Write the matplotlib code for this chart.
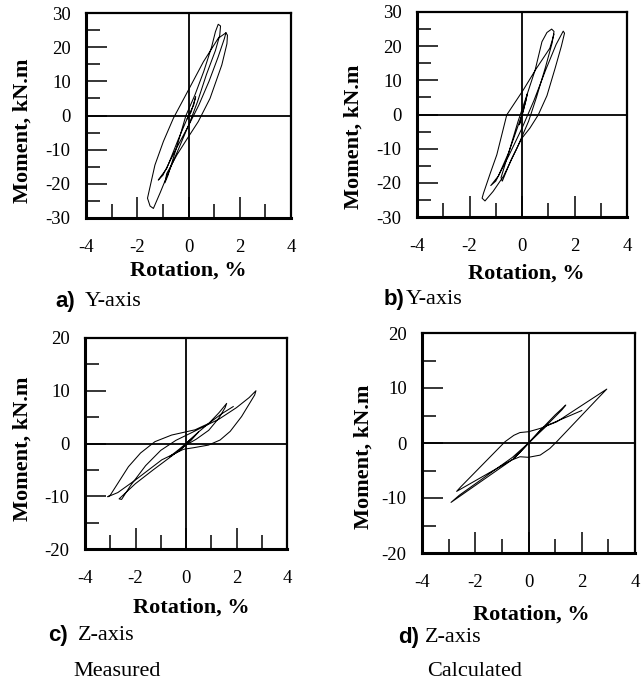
import matplotlib
matplotlib.use('Agg')
import matplotlib.pyplot as plt

plt.rcParams['font.family'] = 'Liberation Serif'
plt.rcParams['axes.unicode_minus'] = False

# a) measured, Y-axis
rot_a = [0, 0.2, 0.28, 0.1, -0.05, 0,
         -0.4, -0.85, -1.18, -1.0, -0.5, 0, 0.4, 0.8, 1.15, 1.4, 1.46, 1.52, 1.5, 1.3, 0.84, 0.38, 0,
         -0.45, -0.85, -0.92, -0.8, -0.45, -0.1, 0.25, 0.6, 0.9, 1.05, 1.16, 1.25, 1.22, 1.05, 0.7, 0.35,
         0.05, -0.4, -0.8, -1.1, -1.37, -1.5, -1.6, -1.31, -0.98, -0.59, 0, 0.58, 1.16, 1.46]
mom_a = [0, 3, 5.5, 1, -1, 0,
         -7, -15.5, -18.9, -17.5, -10, -3, 3, 10, 17, 22.5, 24.2, 23.5, 21, 14.8, 5, -1.8, -6.2,
         -11.5, -17, -19.7, -17.5, -9, 0, 6, 13, 20, 24.5, 26.7, 26.2, 23.5, 19, 12, 4,
         -2, -10, -17, -22.5, -27.2, -26.5, -24.2, -14.5, -7.6, -0.8, 7.5, 15.7, 22.6, 24.2]

# b) calculated, Y-axis
rot_b = [0, 0.15, 0.2, 0.05, -0.1, 0,
         -0.5, -0.9, -1.19, -1.0, -0.5, 0, 0.45, 0.9, 1.3, 1.57, 1.62, 1.5, 1.26, 0.95, 0.62, 0.3, -0.01,
         -0.4, -0.75, -0.8, -0.5, -0.15, 0.2, 0.5, 0.76, 0.95, 1.13, 1.22, 1.15, 0.9, 0.55, 0.25,
         -0.2, -0.7, -1.1, -1.41, -1.52, -1.47, -1.2, -0.96, -0.58, 0.05, 0.55, 1.06, 1.22]
mom_b = [0, 4, 6, 1, -3, 0,
         -11, -18, -20.8, -19.5, -12, -4, 4, 13, 20.5, 24.4, 23.8, 20, 13.5, 5.5, -0.1, -4, -7,
         -13, -19.5, -18.5, -11, -2, 6, 13, 21.3, 24, 25.0, 24.3, 21, 14, 5, -2,
         -10, -18, -22.5, -25.3, -24.5, -23.1, -17, -11.8, -0.1, 7.2, 13.5, 19.4, 23.5]

# c) measured, Z-axis
rot_c = [0, 0.3, 0.5, 0.2, -0.3, -0.65, -0.3, 0,
         0.5, 0.9, 1.3, 1.61, 1.55, 1.3, 0.9, 0.4, 0, -0.6, -1.3, -2.0, -2.65, -2.55, -2.2, -1.6, -1.0,
         -0.4, 0.2, 0.7, 1.3, 2.0, 2.5, 2.77, 2.72, 2.2, 1.75, 1.35, 0.89, 0.3, -0.1, -0.96, -2.0,
         -2.7, -3.1, -3.0, -2.28, -1.8, -1.23, -0.57, 0.36, 0.9, 1.4, 1.87]
mom_c = [0, 1.3, 2.2, 0.6, -1.5, -2.5, -1.2, 0,
         2.2, 3.8, 5.8, 7.6, 6.8, 4.8, 2.5, 0.8, -0.3, -2.5, -5, -7.6, -10.5, -10.6, -8, -4.2, -1.3,
         0.6, 2.0, 3.2, 4.6, 6.8, 8.7, 10.0, 9.2, 5.1, 2.3, 0.66, -0.3, -0.8, -1.1, -3.1, -6.9,
         -9.3, -10.1, -9.8, -4.4, -1.8, 0.35, 1.6, 2.6, 3.8, 5.6, 7.0]

# d) calculated, Z-axis
rot_d = [0, 0.3, 0.5, 0.25, -0.3, -0.55, -0.25, 0,
         0.5, 1.0, 1.4, 1.25, 0.8, 0.4, 0, -0.6, -2.7, -2.55, -0.88, -0.55, -0.32, 0, 0.44, 1.06,
         2.94, 2.7, 1.06, 0.8, 0.44, 0, -0.32, -0.63, -2.91, -2.6, -0.6, 0, 0.7, 2.0]
mom_d = [0, 1.5, 2.5, 1.2, -1.6, -2.8, -1.3, 0,
         2.6, 5.1, 6.9, 6.0, 3.8, 2.0, 0, -3.0, -8.8, -8.0, 0.24, 1.4, 1.9, 2.05, 2.65, 3.85,
         9.8, 8.6, 0.24, -1.0, -2.2, -2.6, -2.5, -3.1, -10.8, -9.5, -2.6, 0, 3.2, 5.9]

x_major = [-4, -2, 0, 2, 4]
x_minor = [-3, -1, 1, 3]

W, H = 642, 682
fig = plt.figure(figsize=(W / 100, H / 100), dpi=100)


def box(l, t, r, b):
    return [l / W, 1 - b / H, (r - l) / W, (b - t) / H]


def panel(rect, rot, mom, ylim, ystep):
    ax = fig.add_axes(box(*rect))
    ax.plot(rot, mom, color='black', lw=0.75)
    ax.axhline(0, color='black', lw=1.3)
    ax.axvline(0, color='black', lw=1.3)
    ax.set_xlim(-4, 4)
    ax.set_ylim(-ylim, ylim)
    ax.set_xticks(x_major)
    ax.set_xticklabels([str(v) for v in x_major])
    ax.set_xticks(x_minor, minor=True)
    yt = list(range(-ylim, ylim + 1, ystep))
    ax.set_yticks(yt)
    ax.set_yticklabels([str(v) for v in yt])
    ax.set_yticks([v + ystep / 2 for v in yt[:-1]], minor=True)
    ax.tick_params(which='both', direction='in', top=False, right=False, width=1.1,
                   labelsize=13.5)
    ax.tick_params(which='major', length=15)
    ax.tick_params(which='minor', length=10)
    ax.tick_params(axis='x', pad=15)
    ax.tick_params(axis='y', pad=11)
    for s in ax.spines.values():
        s.set_linewidth(1.6)
    ax.spines['left'].set_linewidth(2.2)
    ax.spines['bottom'].set_linewidth(2.2)
    return ax


panel((86, 13, 291, 218), rot_a, mom_a, 30, 10)
panel((417, 12, 627, 217), rot_b, mom_b, 30, 10)
panel((85, 338, 287, 549), rot_c, mom_c, 20, 10)
panel((422, 333, 635, 553), rot_d, mom_d, 20, 10)


def ftext(x, y, s, **kw):
    fig.text(x / W, 1 - y / H, s, **kw)


# axis labels
for x, y in [(188, 271), (526, 274), (191, 608), (531, 615)]:
    ftext(x, y, 'Rotation, %', ha='center', va='center', fontsize=16, fontweight='bold')
for x, y in [(23, 131), (354, 137), (23, 449), (364, 457)]:
    ftext(x, y, 'Moment, kN.m', ha='center', va='center', fontsize=16, fontweight='bold',
          rotation=90)

# captions
caps = [(55, 85, 301, 'a)', 'Y-axis'), (384, 406, 299, 'b)', 'Y-axis'),
        (48, 78, 636, 'c)', 'Z-axis'), (398, 425, 638, 'd)', 'Z-axis')]
for xl, xt, y, lab, txt in caps:
    ftext(xl, y, lab, ha='left', va='center', fontsize=16, fontweight='bold',
          family='Liberation Sans')
    ftext(xt, y, txt, ha='left', va='center', fontsize=16)
ftext(73, 671, 'Measured', ha='left', va='center', fontsize=16)
ftext(427, 671, 'Calculated', ha='left', va='center', fontsize=16)

fig.savefig('out.png', dpi=100)
